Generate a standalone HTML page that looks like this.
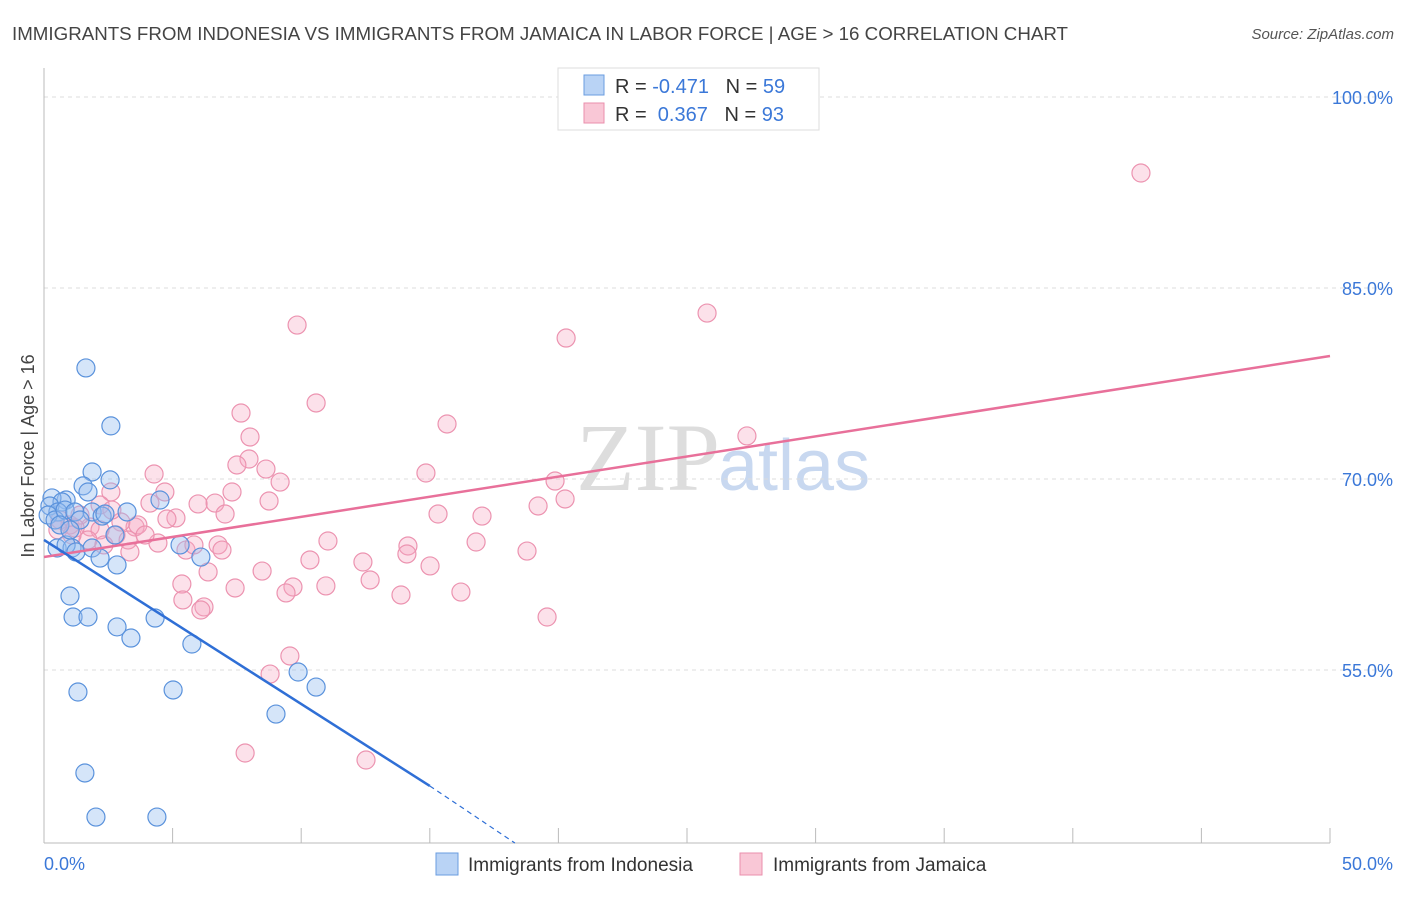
<!DOCTYPE html>
<html><head><meta charset="utf-8"><style>
body{margin:0;background:#fff;font-family:"Liberation Sans",sans-serif}
</style></head><body>
<svg id="c" width="1406" height="892" xmlns="http://www.w3.org/2000/svg">
<text x="12" y="40" font-size="18" fill="#444" textLength="1056" lengthAdjust="spacingAndGlyphs">IMMIGRANTS FROM INDONESIA VS IMMIGRANTS FROM JAMAICA IN LABOR FORCE | AGE &gt; 16 CORRELATION CHART</text>
<text x="1394" y="39" font-size="15" fill="#555" font-style="italic" text-anchor="end">Source: ZipAtlas.com</text>
<text x="720" y="490" font-size="96" fill="#ddd" font-family="Liberation Serif" text-anchor="end">ZIP</text>
<text x="718" y="490" font-size="72" fill="#c8d8f0">atlas</text>
<g id="grid"></g><g id="axes"></g><g id="pts"></g><g id="lines"></g>
<text transform="translate(34,456) rotate(-90)" font-size="18" fill="#444" text-anchor="middle">In Labor Force | Age &gt; 16</text>
<g>
<rect x="558" y="68" width="261" height="62" fill="#fff" stroke="#ddd"/>
<rect x="584" y="75" width="20" height="20" fill="#b9d3f5" stroke="#6a9de0"/>
<rect x="584" y="103" width="20" height="20" fill="#f9c7d6" stroke="#ea8fac"/>
<text x="615" y="93" font-size="20" fill="#333" xml:space="preserve">R = <tspan fill="#3b78d8">-0.471</tspan>   N = <tspan fill="#3b78d8">59</tspan></text>
<text x="615" y="121" font-size="20" fill="#333" xml:space="preserve">R =  <tspan fill="#3b78d8">0.367</tspan>   N = <tspan fill="#3b78d8">93</tspan></text>
</g>
<g>
<rect x="436" y="853" width="22" height="22" fill="#b9d3f5" stroke="#6a9de0"/>
<text x="468" y="871" font-size="19" fill="#333">Immigrants from Indonesia</text>
<rect x="740" y="853" width="22" height="22" fill="#f9c7d6" stroke="#ea8fac"/>
<text x="773" y="871" font-size="19" fill="#333">Immigrants from Jamaica</text>
</g>
</svg>
<script>
const yTicks=[100,85,70,55];
const yTickLabels=["100.0%","85.0%","70.0%","55.0%"];
const blueX=[1.63,2.6,1.87,2.57,1.52,1.71,0.86,0.31,0.7,0.23,0.54,0.16,0.43,0.82,1.2,1.87,2.26,3.23,4.51,0.51,1.09,0.86,1.24,1.87,2.18,2.84,5.29,6.1,1.01,1.13,1.71,2.84,3.38,4.32,5.75,1.32,5.02,9.88,10.58,9.02,1.59,2.02,4.39,2.37,1.4,0.62,1.01,2.76];
const blueY=[78.72,74.17,70.55,69.93,69.46,68.98,68.35,68.51,68.19,67.88,67.41,67.17,66.78,67.56,67.41,67.41,67.09,67.41,68.35,64.58,64.58,64.82,64.27,64.58,63.79,63.25,64.82,63.87,60.81,59.16,59.16,58.38,57.51,59.08,57.04,53.27,53.43,54.84,53.66,51.54,46.91,43.45,43.45,67.25,66.78,66.39,66.0,65.6];
const pinkX=[42.65,25.78,9.84,20.3,10.58,7.66,15.67,8.01,27.33,7.97,7.5,8.63,4.28,14.85,9.18,2.6,4.7,19.87,7.31,8.75,20.26,19.21,6.65,5.99,4.12,15.32,17.03,7.04,5.13,4.78,3.54,2.99,3.65,1.79,2.18,2.8,3.27,4.43,5.52,6.77,6.92,5.83,11.04,16.8,14.15,14.11,18.78,10.34,12.4,15.01,8.48,6.38,5.36,12.68,10.96,9.68,9.41,7.43,13.88,16.21,5.4,6.22,6.1,19.56,9.56,8.79,7.82,12.52,3.34,3.93,0.62,1.01,1.4,2.18,2.64,0.54,1.21,1.71,2.33,1.09];
const pinkY=[94.03,83.03,82.09,81.07,75.97,75.18,74.32,73.3,73.38,71.57,71.1,70.78,70.39,70.47,69.76,68.98,68.98,69.84,68.98,68.27,68.43,67.88,68.11,68.04,68.11,67.25,67.09,67.25,66.94,66.86,66.23,66.62,66.39,66.23,66.0,65.6,65.21,64.97,64.42,64.82,64.42,64.82,65.13,65.05,64.74,64.11,64.34,63.64,63.48,63.17,62.77,62.7,61.75,62.07,61.6,61.52,61.05,61.44,60.89,61.12,60.5,59.95,59.71,59.16,56.1,54.68,48.48,47.93,64.27,65.6,66.78,66.39,67.17,67.96,67.56,66.0,66.15,65.21,64.82,65.6];
const blueTrend=[[0,65.21],[15,45.89],[18.31,41.41]];
const pinkTrend=[[0,63.87],[50,79.66]];
const X=v=>44+v*25.72, Y=v=>97+(100-v)*12.733;
const NS="http://www.w3.org/2000/svg";
function mk(t,a,p){const e=document.createElementNS(NS,t);for(const k in a)e.setAttribute(k,a[k]);p.appendChild(e);return e;}
const grid=document.getElementById('grid'),axes=document.getElementById('axes');
yTicks.forEach((t,i)=>{
 const l=mk('line',{x1:44,x2:1394,y1:Y(t),y2:Y(t),stroke:'#ddd','stroke-dasharray':'4,4'},grid);
 
 
 const tx=mk('text',{x:1393,y:Y(t)+7,'font-size':18,fill:'#3b78d8','text-anchor':'end'},axes);tx.textContent=yTickLabels[i];
 
 
});
mk('line',{x1:44,x2:44,y1:68,y2:843,stroke:'#bbb'},axes);
mk('line',{x1:44,x2:1330,y1:843,y2:843,stroke:'#bbb'},axes);
for(let i=0;i<=10;i++){mk('line',{x1:X(i*5),x2:X(i*5),y1:828,y2:843,stroke:'#bbb'},axes);}
const x0=mk('text',{x:44,y:870,'font-size':18,fill:'#3b78d8'},axes);x0.textContent='0.0%';


const x1=mk('text',{x:1393,y:870,'font-size':18,fill:'#3b78d8','text-anchor':'end'},axes);x1.textContent='50.0%';


const pts=document.getElementById('pts');
pinkX.forEach((v,i)=>{const c=mk('circle',{cx:X(v),cy:Y(pinkY[i]),r:9,fill:'rgba(246,170,195,0.35)',stroke:'#ec93b0','stroke-width':1.2},pts);
 
 });
blueX.forEach((v,i)=>{const c=mk('circle',{cx:X(v),cy:Y(blueY[i]),r:9,fill:'rgba(150,190,240,0.4)',stroke:'#5a92dc','stroke-width':1.2},pts);
 
 });
const lines=document.getElementById('lines');
const pl=mk('line',{x1:X(pinkTrend[0][0]),y1:Y(pinkTrend[0][1]),x2:X(pinkTrend[1][0]),y2:Y(pinkTrend[1][1]),stroke:'#e8709a','stroke-width':2.5},lines);


const bl=mk('line',{x1:X(blueTrend[0][0]),y1:Y(blueTrend[0][1]),x2:X(blueTrend[1][0]),y2:Y(blueTrend[1][1]),stroke:'#2f6fd6','stroke-width':2.5},lines);


const bd=mk('line',{x1:X(blueTrend[1][0]),y1:Y(blueTrend[1][1]),x2:X(blueTrend[2][0]),y2:Y(blueTrend[2][1]),stroke:'#2f6fd6','stroke-width':1.2,'stroke-dasharray':'5,4'},lines);


</script>
</body></html>
